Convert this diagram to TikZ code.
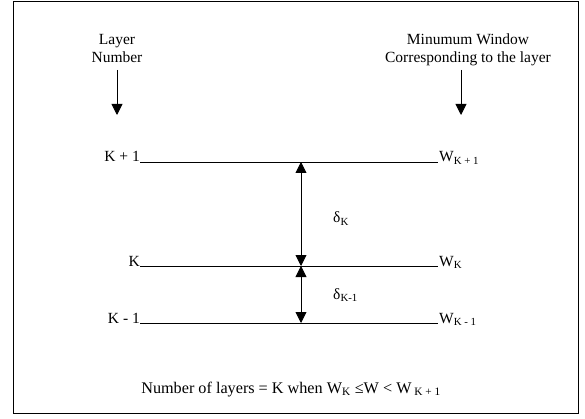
\documentclass[tikz,border=0pt]{standalone}
\usepackage{fontspec}
\setmainfont{Liberation Serif}
\usetikzlibrary{arrows.meta}
\begin{document}
\begin{tikzpicture}[x=1pt,y=-1pt,
  lbl/.style={inner sep=0pt,font=\fontsize{15.5}{18.5}\selectfont},
  bigl/.style={inner sep=0pt,font=\fontsize{16.2}{19}\selectfont},
  layerline/.style={line width=0.9pt},
  dimarrow/.style={line width=0.9pt,{Triangle[length=11pt,width=11pt]}-{Triangle[length=11pt,width=11pt]}},
  downarrow/.style={line width=0.9pt,-{Triangle[length=11pt,width=11pt]}}]
\useasboundingbox (0,0) rectangle (585,419);
\draw[line width=1pt] (13.5,1.5) rectangle (578.5,413);
% headings
\node[lbl,align=center,anchor=base] (hl) at (117,63) {Layer\\Number};
\node[lbl,align=center,anchor=base] (hr) at (468,63) {Minumum Window\\Corresponding to the layer};
\coordinate (al1) at (117,70); \coordinate (al2) at (117,115);
\coordinate (ar1) at (461,70); \coordinate (ar2) at (461,115);
\draw[downarrow] (al1) -- (al2);
\draw[downarrow] (ar1) -- (ar2);
% lines
\coordinate (t1) at (140,162); \coordinate (t2) at (438,162);
\coordinate (m1) at (140,266); \coordinate (m2) at (438,266);
\coordinate (b1) at (140,323); \coordinate (b2) at (438,323);
\draw[layerline] (t1) -- (t2);
\draw[layerline] (m1) -- (m2);
\draw[layerline] (b1) -- (b2);
\node[lbl,anchor=base east] (lt) at (t1) {K + 1};
\node[lbl,anchor=base east] (lm) at (m1) {K};
\node[lbl,anchor=base east] (lb) at (b1) {K - 1};
\node[lbl,anchor=base west] (wt) at ([xshift=1pt]t2) {W\textsubscript{K + 1}};
\node[lbl,anchor=base west] (wm) at ([xshift=1pt]m2) {W\textsubscript{K}};
\node[lbl,anchor=base west] (wb) at ([xshift=1pt]b2) {W\textsubscript{K - 1}};
% dimension arrows
\coordinate (dt) at (301,162); \coordinate (dm) at (301,266); \coordinate (db) at (301,323);
\draw[dimarrow] (dt) -- (dm);
\draw[dimarrow] (dm) -- (db);
\node[lbl,anchor=base west] (d1) at (333,223) {δ\textsubscript{K}};
\node[lbl,anchor=base west] (d2) at (333,299) {δ\textsubscript{K-1}};
% bottom
\node[bigl,anchor=base] (nb) at (291,393) {Number of layers = K when W\textsubscript{K} ≤W < W\,\textsubscript{K + 1}};
\end{tikzpicture}
\end{document}
